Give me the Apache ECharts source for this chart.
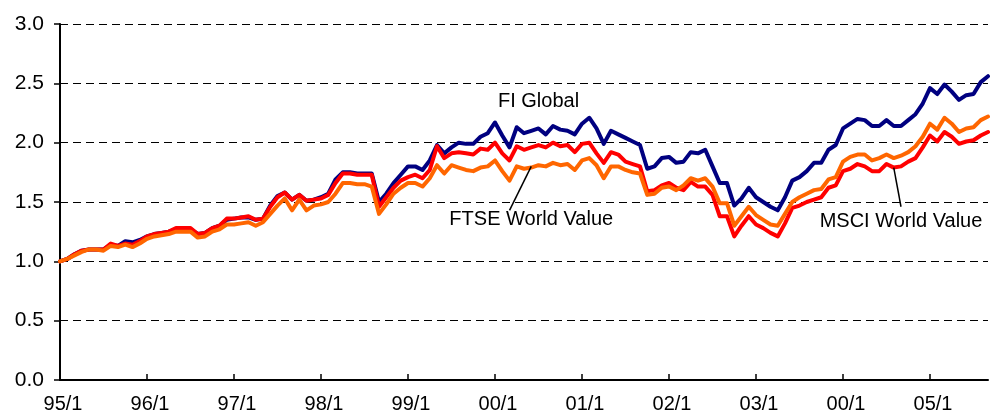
<!DOCTYPE html>
<html>
<head>
<meta charset="utf-8">
<script src="https://cdn.jsdelivr.net/npm/echarts@6/dist/echarts.min.js"></script>
<style>
  html, body { margin: 0; padding: 0; background: #fff; }
  #chart { width: 997px; height: 416px; }
</style>
</head>
<body>
<div id="chart"></div>
<script>
// one point per month, first point at 95/1
const tickLabels = ['95/1', '96/1', '97/1', '98/1', '99/1', '00/1', '01/1', '02/1', '03/1', '00/1', '05/1']

const fiGlobal = [
  1.00, 1.02, 1.06, 1.09, 1.10, 1.10, 1.10, 1.14, 1.13, 1.17,
  1.16, 1.18, 1.21, 1.23, 1.24, 1.25, 1.27, 1.28, 1.27, 1.23,
  1.24, 1.28, 1.30, 1.35, 1.36, 1.37, 1.37, 1.35, 1.36, 1.47,
  1.55, 1.58, 1.52, 1.56, 1.51, 1.52, 1.54, 1.57, 1.69, 1.75,
  1.75, 1.74, 1.74, 1.74, 1.50, 1.57, 1.66, 1.73, 1.80, 1.80,
  1.77, 1.85, 1.98, 1.91, 1.96, 2.00, 1.99, 1.99, 2.05, 2.08,
  2.17, 2.06, 1.96, 2.13, 2.08, 2.10, 2.12, 2.07, 2.14, 2.11,
  2.10, 2.07, 2.16, 2.21, 2.12, 1.99, 2.10, 2.07, 2.04, 2.01,
  1.98, 1.78, 1.80, 1.87, 1.88, 1.83, 1.84, 1.92, 1.91, 1.94,
  1.80, 1.66, 1.66, 1.47, 1.53, 1.62, 1.54, 1.50, 1.46, 1.43,
  1.54, 1.68, 1.71, 1.76, 1.83, 1.83, 1.94, 1.98, 2.12, 2.16,
  2.20, 2.19, 2.14, 2.14, 2.19, 2.14, 2.14, 2.19, 2.24, 2.33,
  2.46, 2.41, 2.49, 2.43, 2.36, 2.40, 2.41, 2.51, 2.56
]

const msciWorldValue = [
  1.00, 1.02, 1.06, 1.09, 1.10, 1.10, 1.10, 1.15, 1.13, 1.15,
  1.14, 1.17, 1.21, 1.23, 1.24, 1.25, 1.28, 1.28, 1.28, 1.23,
  1.24, 1.28, 1.30, 1.36, 1.36, 1.37, 1.38, 1.35, 1.36, 1.46,
  1.54, 1.58, 1.52, 1.56, 1.51, 1.52, 1.53, 1.56, 1.66, 1.74,
  1.74, 1.73, 1.73, 1.73, 1.46, 1.54, 1.62, 1.68, 1.71, 1.73,
  1.70, 1.77, 1.97, 1.87, 1.91, 1.92, 1.91, 1.90, 1.95, 1.94,
  2.00, 1.91, 1.85, 1.97, 1.94, 1.96, 1.98, 1.96, 2.00, 1.97,
  1.98, 1.92, 1.99, 2.00, 1.91, 1.83, 1.92, 1.90, 1.84, 1.82,
  1.80, 1.59, 1.60, 1.64, 1.66, 1.62, 1.60, 1.67, 1.63, 1.63,
  1.56, 1.38, 1.38, 1.21, 1.30, 1.38, 1.31, 1.28, 1.24, 1.21,
  1.32, 1.45, 1.47, 1.50, 1.52, 1.54, 1.62, 1.64, 1.76, 1.78,
  1.82, 1.80, 1.76, 1.76, 1.82, 1.79, 1.80, 1.84, 1.87, 1.96,
  2.06, 2.01, 2.09, 2.05, 1.99, 2.01, 2.02, 2.06, 2.09
]

const ftseWorldValue = [
  1.00, 1.02, 1.05, 1.08, 1.10, 1.10, 1.09, 1.13, 1.12, 1.14,
  1.12, 1.15, 1.19, 1.21, 1.22, 1.23, 1.25, 1.25, 1.25, 1.20,
  1.21, 1.25, 1.27, 1.31, 1.31, 1.32, 1.33, 1.30, 1.33, 1.40,
  1.47, 1.53, 1.43, 1.52, 1.43, 1.47, 1.48, 1.50, 1.57, 1.66,
  1.66, 1.65, 1.65, 1.63, 1.40, 1.48, 1.57, 1.62, 1.66, 1.66,
  1.63, 1.70, 1.81, 1.74, 1.81, 1.79, 1.77, 1.76, 1.79, 1.80,
  1.85, 1.76, 1.68, 1.80, 1.78, 1.79, 1.81, 1.80, 1.83, 1.81,
  1.82, 1.77, 1.85, 1.87, 1.81, 1.70, 1.80, 1.80, 1.77, 1.75,
  1.74, 1.56, 1.57, 1.62, 1.63, 1.60, 1.64, 1.70, 1.68, 1.70,
  1.63, 1.49, 1.49, 1.30, 1.38, 1.46, 1.39, 1.35, 1.31, 1.30,
  1.40, 1.50, 1.54, 1.57, 1.60, 1.61, 1.69, 1.71, 1.84, 1.88,
  1.90, 1.90, 1.85, 1.87, 1.90, 1.87, 1.89, 1.92, 1.97, 2.05,
  2.16, 2.11, 2.21, 2.16, 2.09, 2.12, 2.13, 2.19, 2.22
]

// series labels, placed in data units (month index, value)
const noteTexts = ['FI Global', 'FTSE World Value', 'MSCI World Value']
const notePlaces = [[65.9, 2.35], [65.1, 1.35], [116.1, 1.34]]
// leader lines: from the line to the label
const leaderLines = [
  [[64.7, 1.80], [62.3, 1.43]],
  [[114.8, 1.79], [116.4, 1.46]]
]

const months = fiGlobal.map((_, i) => i)
const font = '"Liberation Sans", Arial, sans-serif'

const chart = echarts.init(document.getElementById('chart'), null, { renderer: 'canvas' })

const lineSeries = (name, data, color, z) => ({
  name: name,
  type: 'line',
  data: data,
  showSymbol: false,
  symbol: 'none',
  z: z,
  lineStyle: { width: 4, color: color, cap: 'round', join: 'round' }
})

const option = {
  backgroundColor: '#fff',
  animation: false,
  grid: {
    left: 60,
    right: 9,
    top: 24,
    bottom: 36,
    containLabel: false
  },
  xAxis: {
    type: 'category',
    data: months,
    boundaryGap: false,
    axisLine: { lineStyle: { color: '#000', width: 2 } },
    axisTick: {
      inside: true,
      length: 6,
      interval: (i) => i % 12 === 0,
      lineStyle: { color: '#000', width: 1.5 }
    },
    axisLabel: {
      interval: (i) => i % 12 === 0,
      color: '#000',
      fontFamily: font,
      fontSize: 20,
      margin: 14,
      padding: [0, 0, 0, 6],
      formatter: (v, i) => tickLabels[i / 12] || ''
    },
    splitLine: { show: false }
  },
  yAxis: {
    type: 'value',
    min: 0,
    max: 3,
    interval: 0.5,
    axisLine: { show: true, lineStyle: { color: '#000', width: 2 } },
    axisTick: { show: true, length: 6, lineStyle: { color: '#000', width: 1.5 } },
    axisLabel: {
      color: '#000',
      fontFamily: font,
      fontSize: 21,
      margin: 16,
      formatter: (v) => v.toFixed(1)
    },
    splitLine: {
      show: true,
      lineStyle: { color: '#000', width: 1, type: [8, 5] }
    }
  },
  series: [
    lineSeries('FI Global', fiGlobal, '#000080', 2),
    lineSeries('MSCI World Value', msciWorldValue, '#ff0000', 3),
    lineSeries('FTSE World Value', ftseWorldValue, '#ff6600', 4)
  ]
}

chart.setOption(option)

// labels and leader lines, converted from data units to pixels
const toPx = (p) => chart.convertToPixel({ gridIndex: 0 }, p)
const graphics = []
noteTexts.forEach((t, k) => {
  const p = toPx(notePlaces[k])
  graphics.push({
    type: 'text',
    x: p[0],
    y: p[1],
    z: 10,
    style: {
      text: t,
      font: '20px ' + font,
      fill: '#000',
      align: 'center',
      verticalAlign: 'middle'
    }
  })
})
leaderLines.forEach((seg) => {
  const a = toPx(seg[0])
  const b = toPx(seg[1])
  graphics.push({
    type: 'line',
    z: 10,
    shape: { x1: a[0], y1: a[1], x2: b[0], y2: b[1] },
    style: { stroke: '#000', lineWidth: 1.5 }
  })
})
chart.setOption({ graphic: graphics })
</script>
</body>
</html>
